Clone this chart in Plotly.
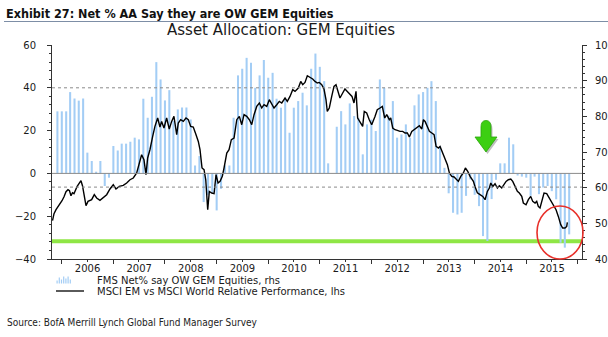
import plotly.graph_objects as go
import pandas as pd
from datetime import datetime

# ---------------- data ----------------
# FMS net % of asset allocators overweight GEM equities (monthly)
fms_first_month = "2005-12-01"
fms_net = [29, 29, 29, 38, 35, 34, 35, 9.7, 5.8, 0.8,
           5.8, -5.9, -2, 12.8, 10.7, 13.9, 13.9, 14.8, 16.7, 15.9,
           34.9, 26, 35.8, 52, 43.9, 34.1, 38.9, 24.5, 29.9, 30.8,
           30.8, 25.2, 3.7, 8.1, -13.4, -10, -9, -17.3, -7.2, 3.7,
           3.7, 26, 45.8, 48.9, 54, 51.7, 40, 45.8, 53, 44.7,
           47, 34.9, 30.7, 34.9, 19, 30.7, 33.8, 37.7, 31.8, 48.9,
           56, 49.8, 43.1, 4.7, 0, 21.8, 29.1, 22.9, 32.7, 26.8,
           26, 8.9, 22.9, 25.2, 19.8, 43.9, 40, 27, 33.8, 16.7,
           18.2, 22.9, 16.7, 31.8, 36.9, 38, 40, 43.1, 33.8, 12.8,
           2.6, -9.3, -18.4, -19.2, -18.4, -10.5, -2.8, -10, -15.3, -29.3,
           -31.6, -12, -3, 4.7, 4.7, 16.7, 13.6, -1, -1.5, -2,
           -10.5, -1.5, -9.7, -6.6, -5.9, -8.3, -12.1, -32.4, -34.7, -28.5]

# MSCI EM vs MSCI World relative performance (decimal year, index level)
rel_year = [2005.820, 2005.849, 2005.888, 2005.926, 2005.965, 2006.004, 2006.043, 2006.081, 2006.120, 2006.149,
            2006.178, 2006.207, 2006.236, 2006.266, 2006.295, 2006.333, 2006.372, 2006.401, 2006.430, 2006.469,
            2006.508, 2006.579, 2006.630, 2006.676, 2006.740, 2006.804, 2006.870, 2006.934, 2006.998, 2007.050,
            2007.114, 2007.192, 2007.258, 2007.322, 2007.386, 2007.452, 2007.502, 2007.548, 2007.593, 2007.632,
            2007.665, 2007.709, 2007.762, 2007.806, 2007.859, 2007.903, 2007.936, 2007.981, 2008.033, 2008.083,
            2008.130, 2008.174, 2008.227, 2008.258, 2008.304, 2008.355, 2008.407, 2008.452, 2008.498, 2008.548,
            2008.601, 2008.645, 2008.678, 2008.717, 2008.756, 2008.789, 2008.827, 2008.858, 2008.905, 2008.950,
            2008.988, 2009.027, 2009.066, 2009.110, 2009.143, 2009.196, 2009.240, 2009.285, 2009.337, 2009.390,
            2009.440, 2009.486, 2009.531, 2009.583, 2009.634, 2009.680, 2009.725, 2009.777, 2009.828, 2009.874,
            2009.919, 2009.971, 2010.021, 2010.068, 2010.112, 2010.165, 2010.215, 2010.262, 2010.326, 2010.370,
            2010.422, 2010.475, 2010.519, 2010.583, 2010.630, 2010.669, 2010.713, 2010.758, 2010.810, 2010.862,
            2010.907, 2010.951, 2010.990, 2011.037, 2011.081, 2011.120, 2011.145, 2011.184, 2011.231, 2011.275,
            2011.314, 2011.339, 2011.391, 2011.444, 2011.488, 2011.533, 2011.585, 2011.624, 2011.663, 2011.702,
            2011.734, 2011.779, 2011.831, 2011.862, 2011.909, 2011.959, 2012.006, 2012.070, 2012.114, 2012.167,
            2012.211, 2012.258, 2012.297, 2012.347, 2012.374, 2012.413, 2012.457, 2012.502, 2012.554, 2012.606,
            2012.651, 2012.696, 2012.734, 2012.781, 2012.826, 2012.878, 2012.928, 2012.975, 2013.006, 2013.039,
            2013.083, 2013.122, 2013.169, 2013.213, 2013.252, 2013.297, 2013.329, 2013.382, 2013.426, 2013.471,
            2013.510, 2013.556, 2013.601, 2013.640, 2013.684, 2013.731, 2013.781, 2013.820, 2013.866, 2013.911,
            2013.975, 2014.008, 2014.052, 2014.105, 2014.157, 2014.202, 2014.246, 2014.285, 2014.312, 2014.351,
            2014.395, 2014.440, 2014.479, 2014.525, 2014.570, 2014.609, 2014.653, 2014.700, 2014.738, 2014.783,
            2014.828, 2014.866, 2014.913, 2014.944, 2014.996, 2015.041, 2015.087, 2015.126, 2015.171, 2015.203,
            2015.234, 2015.267, 2015.320, 2015.345, 2015.397, 2015.448, 2015.494, 2015.539, 2015.578, 2015.622,
            2015.669, 2015.707, 2015.752, 2015.785, 2015.797]
rel_perf = [50.74, 52.70, 53.82, 54.66, 55.22, 56.35, 57.47, 58.87, 59.43, 59.15,
            57.75, 58.59, 58.31, 59.43, 60.27, 61.11, 61.95, 60.55, 57.75, 54.94,
            56.15, 56.63, 58.03, 57.10, 56.43, 57.10, 58.03, 59.63, 60.83, 59.63,
            60.35, 60.64, 61.31, 62.23, 62.71, 64.11, 66.44, 69.24, 67.84, 63.64,
            68.32, 70.64, 74.37, 77.18, 79.53, 77.01, 78.58, 76.73, 79.53, 76.45,
            78.58, 79.98, 74.85, 78.13, 79.06, 78.58, 79.53, 79.06, 77.18, 77.01,
            74.85, 72.97, 70.64, 65.51, 65.04, 62.23, 53.82, 58.95, 58.50, 58.31,
            63.64, 61.31, 61.76, 63.16, 65.51, 69.72, 70.64, 73.45, 73.92, 79.06,
            79.98, 77.65, 80.46, 79.98, 79.06, 77.65, 80.46, 82.78, 83.74, 82.34,
            83.26, 82.78, 84.66, 83.26, 82.34, 83.26, 84.19, 83.74, 85.14, 84.19,
            85.59, 87.47, 86.99, 87.94, 89.79, 88.87, 89.51, 91.39, 91.03, 90.47,
            89.79, 89.35, 89.51, 88.87, 87.66, 84.66, 81.38, 82.34, 85.59, 88.39,
            88.87, 87.47, 85.14, 86.54, 87.66, 86.99, 86.06, 85.59, 83.74, 86.99,
            79.53, 78.58, 77.18, 81.38, 80.93, 79.06, 77.65, 79.98, 81.86, 82.34,
            82.78, 79.53, 80.46, 79.06, 79.53, 76.73, 76.25, 76.06, 75.78, 75.78,
            75.33, 75.33, 74.21, 75.78, 76.25, 76.73, 77.37, 76.45, 79.06, 78.58,
            77.01, 75.78, 75.33, 74.85, 71.57, 71.12, 71.57, 69.72, 68.32, 66.44,
            64.11, 63.16, 62.99, 62.43, 61.76, 63.16, 64.11, 65.51, 64.56, 63.16,
            61.76, 60.27, 58.59, 58.03, 57.55, 56.63, 58.95, 59.91, 61.31, 60.35,
            61.11, 59.91, 60.55, 59.91, 61.11, 61.76, 62.23, 62.43, 61.76, 60.35,
            58.95, 58.50, 57.55, 55.70, 55.22, 56.63, 57.55, 56.15, 55.70, 56.15,
            54.75, 54.30, 57.10, 58.50, 58.31, 57.10, 55.70, 54.75, 53.82, 51.94,
            49.62, 48.69, 48.69, 49.14, 50.26]

left_ticks = [-40, -20, 0, 20, 40, 60]
right_ticks = [40, 50, 60, 70, 80, 90, 100]
x_range_years = [2005.81, 2016.081]
green_level = -31.7          # lhs level of the highlighted floor
sd_band = [40, -6.4]         # dotted reference lines (lhs)

# ---------------- helpers ----------------
W, H = 608, 337
L, R, T, B = 52, 26, 45, 78


def year_to_date(t):
    y = int(t)
    a, b = datetime(y, 1, 1), datetime(y + 1, 1, 1)
    return a + (b - a) * (t - y)


def px(x):
    return (x - L) / (W - L - R)


def py(y):
    return (H - B - y) / (H - T - B)


months = pd.date_range(fms_first_month, periods=len(fms_net), freq="MS")
rel_dates = [year_to_date(t) for t in rel_year]

FONT = "DejaVu Sans"
NARROW = "DejaVu Sans Condensed, Liberation Sans"
AX = "#333333"

fig = go.Figure()
fig.add_trace(go.Bar(x=months, y=fms_net, marker=dict(color="#a3cdf5", line=dict(width=0)),
                     yaxis="y", showlegend=False))
fig.add_trace(go.Scatter(x=rel_dates, y=rel_perf, mode="lines",
                         line=dict(color="#000000", width=1.4), yaxis="y2", showlegend=False))

shapes = []
# green floor
shapes.append(dict(type="line", xref="paper", yref="y", x0=0, x1=1, y0=green_level, y1=green_level,
                   line=dict(color="#8fe645", width=4), layer="below"))
# zero line
shapes.append(dict(type="line", xref="paper", yref="y", x0=0, x1=1, y0=0, y1=0,
                   line=dict(color="#8a8a8a", width=1), layer="above"))
for lv in sd_band:
    shapes.append(dict(type="line", xref="paper", yref="y", x0=0, x1=1, y0=lv, y1=lv,
                       line=dict(color="#8a8a8a", width=1, dash="dot"), layer="above"))

# red circle
shapes.append(dict(type="circle", xref="paper", yref="paper", x0=px(537), x1=px(583), y0=py(259), y1=py(206),
                   line=dict(color="#e8302a", width=1.6), layer="above"))


# green arrow (with soft shadow)
def arrow_path(dx=0, dy=0):
    pts = [("M", 481, 137), ("L", 481, 127), ("Q", 481, 120.5, 486, 120.5), ("Q", 491, 120.5, 491, 127),
           ("L", 491, 137), ("L", 497, 137), ("L", 486, 152), ("L", 475, 137)]
    s = ""
    for p in pts:
        if p[0] == "Q":
            s += "Q%.5f,%.5f %.5f,%.5f " % (px(p[1] + dx), py(p[2] + dy), px(p[3] + dx), py(p[4] + dy))
        else:
            s += "%s%.5f,%.5f " % (p[0], px(p[1] + dx), py(p[2] + dy))
    return s + "Z"


shapes.append(dict(type="path", xref="paper", yref="paper", path=arrow_path(1.5, 2),
                   fillcolor="rgba(0,0,0,0.25)", line=dict(width=0), layer="above"))
shapes.append(dict(type="path", xref="paper", yref="paper", path=arrow_path(),
                   fillcolor="#3ccf12", line=dict(color="#2aa70a", width=0.8), layer="above"))

# title underline
shapes.append(dict(type="line", xref="paper", yref="paper", x0=px(4), x1=px(608), y0=py(21.5), y1=py(21.5),
                   line=dict(color="#7d8ea6", width=1.2)))

# legend icons
icon_h = [3, 6, 4, 7, 5, 7, 4]
for i, hh in enumerate(icon_h):
    x0 = 56.5 + i * 2.2
    shapes.append(dict(type="rect", xref="paper", yref="paper", x0=px(x0), x1=px(x0 + 1.2),
                       y0=py(283.5), y1=py(283.5 - hh), fillcolor="#a3cdf5", line=dict(width=0)))
shapes.append(dict(type="line", xref="paper", yref="paper", x0=px(56), x1=px(84), y0=py(291), y1=py(291),
                   line=dict(color="#000000", width=1.3)))

annotations = [
    dict(text="<b>Exhibit 27: Net % AA Say they are OW GEM Equities</b>", xref="paper", yref="paper",
         x=px(4), y=py(13.5), xanchor="left", yanchor="middle", showarrow=False,
         font=dict(family=NARROW, size=12.5, color="#111111")),
    dict(text="Asset Allocation: GEM Equities", xref="paper", yref="paper",
         x=px(281), y=py(30.5), xanchor="center", yanchor="middle", showarrow=False,
         font=dict(family=FONT, size=15, color="#1a1a1a")),
    dict(text="FMS Net% say OW GEM Equities, rhs", xref="paper", yref="paper",
         x=px(95), y=py(280.5), xanchor="left", yanchor="middle", showarrow=False,
         font=dict(family=FONT, size=10, color="#1a1a1a")),
    dict(text="MSCI EM vs MSCI World Relative Performance, lhs", xref="paper", yref="paper",
         x=px(95), y=py(291), xanchor="left", yanchor="middle", showarrow=False,
         font=dict(family=FONT, size=10, color="#1a1a1a")),
    dict(text="Source: BofA Merrill Lynch Global Fund Manager Survey", xref="paper", yref="paper",
         x=px(5), y=py(322), xanchor="left", yanchor="middle", showarrow=False,
         font=dict(family=NARROW, size=10, color="#222222")),
]

fig.update_layout(
    width=W, height=H, margin=dict(l=L, r=R, t=T, b=B, pad=0, autoexpand=False),
    paper_bgcolor="white", plot_bgcolor="white",
    bargap=0.48, showlegend=False,
    shapes=shapes, annotations=annotations,
    xaxis=dict(type="date", range=[year_to_date(x_range_years[0]), year_to_date(x_range_years[1])],
               tickmode="linear", tick0="2006-01-01", dtick="M12", ticklabelmode="period", tickformat="%Y",
               ticks="outside", ticklen=4, tickcolor=AX, tickwidth=1, automargin=False,
               minor=dict(dtick="M6", ticks="outside", ticklen=2, tickcolor=AX),
               showline=True, linecolor=AX, linewidth=1, showgrid=False, zeroline=False,
               ticklabelstandoff=-4, tickfont=dict(family=FONT, size=10, color="#1a1a1a")),
    yaxis=dict(range=[-40, 60], tickvals=left_ticks, ticks="outside", ticklen=4, tickcolor=AX,
               minor=dict(dtick=4, ticks="outside", ticklen=2, tickcolor=AX), automargin=False,
               showline=True, linecolor=AX, linewidth=1, showgrid=False, zeroline=False,
               ticklabelstandoff=9, tickfont=dict(family=FONT, size=10, color="#1a1a1a")),
    yaxis2=dict(range=[40, 100], tickvals=right_ticks, overlaying="y", side="right",
                ticks="outside", ticklen=4, tickcolor=AX, automargin=False,
                minor=dict(dtick=2, ticks="outside", ticklen=2, tickcolor=AX),
                showline=True, linecolor=AX, linewidth=1, showgrid=False, zeroline=False,
                ticklabelstandoff=6, tickfont=dict(family=FONT, size=10, color="#1a1a1a")),
)

fig.write_html("out.html")
